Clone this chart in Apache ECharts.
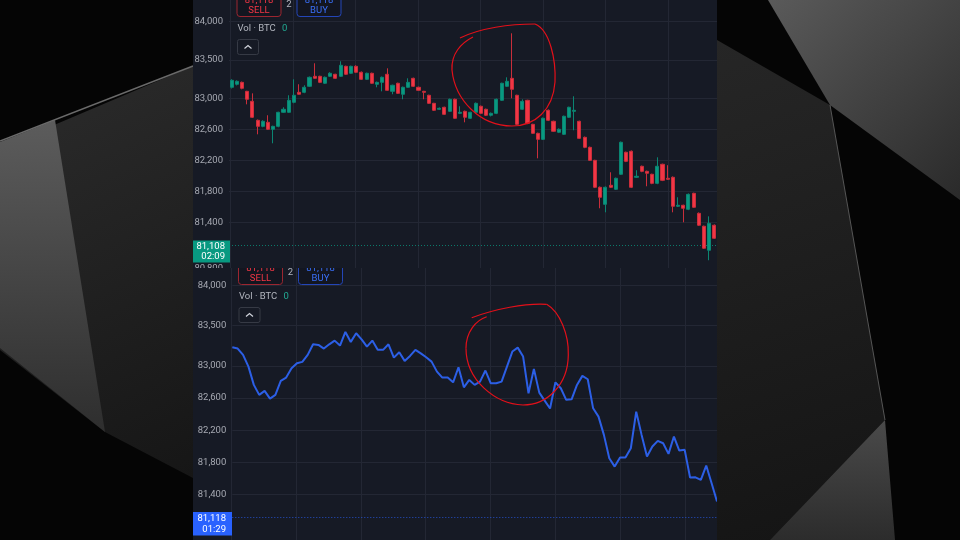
<!DOCTYPE html>
<html>
<head>
<meta charset="utf-8">
<script src="https://cdn.jsdelivr.net/npm/echarts@6/dist/echarts.min.js"></script>
<style>
html,body{margin:0;padding:0;background:#050505;overflow:hidden;}
#bg{position:absolute;left:0;top:0;width:960px;height:540px;}
#top{position:absolute;left:193px;top:0;width:524px;height:268px;}
#bottom{position:absolute;left:193px;top:268px;width:524px;height:272px;}
</style>
</head>
<body>
<div id="bg"></div>
<div id="top"></div>
<div id="bottom"></div>
<script>
// price scale labels of each panel
var topTicks = [84000, 83500, 83000, 82600, 82200, 81800, 81400, 80800];
var bottomTicks = [84000, 83500, 83000, 82600, 82200, 81800, 81400];

// top panel: candles
var opens = [83146,83185,83210,83094,82965,82720,82642,82694,82604,82642,
82823,82823,82952,83081,83081,83159,83288,83288,83198,83288,
83314,83288,83417,83327,83417,83340,83249,83327,83185,83210,
83314,83094,83198,83056,83146,83262,83146,83094,83043,82939,
82862,82888,82836,82991,82810,82836,82746,82823,82901,82862,
82785,82810,82978,83159,83262,83043,82862,82978,82668,82552,
82474,82849,82707,82565,82539,82759,82836,82707,82500,82371,
82203,81855,81635,81881,81829,82023,82307,82320,81984,82126,
82061,82023,81906,82152,81971,81984,81610,81623,81571,81777,
81519,81352,81042,81365];
var closes = [83236,83223,83133,82991,82759,82642,82707,82604,82642,82823,
82862,82978,83043,83056,83146,83275,83262,83210,83275,83327,
83262,83430,83314,83417,83340,83249,83327,83198,83210,83275,
83107,83172,83068,83146,83210,83159,83107,83081,82939,82849,
82875,82797,82991,82746,82823,82759,82823,82939,82810,82785,
82810,82991,83198,83223,83120,82668,82965,82681,82552,82474,
82746,82720,82578,82604,82772,82888,82849,82487,82371,82203,
81855,81726,81855,81855,81971,82436,82190,81855,81997,82061,
82036,81906,82126,81945,81958,81610,81623,81584,81764,81597,
81365,81068,81390,81197];
var lows = [83130,83170,83120,82926,82750,82539,82630,82595,82423,82630,
82815,82815,82940,83050,83070,83150,83255,83200,83190,83280,
83255,83280,83305,83320,83330,83240,83240,83190,83146,83094,
83100,83056,83060,82991,83140,83150,83100,82991,82930,82840,
82855,82790,82830,82740,82800,82694,82740,82815,82800,82775,
82770,82800,82970,83150,83004,82660,82855,82670,82545,82229,
82465,82710,82570,82555,82530,82750,82591,82480,82360,82195,
81845,81584,81532,81845,81820,82015,82180,81845,81975,82050,
81868,81895,81895,81935,81950,81532,81600,81403,81560,81590,
81355,81060,80913,81190];
var highs = [83250,83235,83220,83100,83068,82730,82720,82785,82650,82830,
82888,83043,83249,83185,83172,83285,83456,83295,83285,83340,
83320,83482,83425,83425,83430,83350,83335,83335,83220,83285,
83391,83180,83205,83155,83262,83270,83155,83100,83050,82945,
82885,82895,83000,83000,82901,82845,82830,82950,82910,82870,
82820,83000,83205,83275,83843,83050,82990,82985,82675,82560,
82755,82860,82715,82615,82780,82895,83030,82715,82510,82380,
82210,81865,81865,82049,81980,82445,82315,82330,82075,82135,
82070,82030,82242,82160,82140,81995,81726,81630,81775,81785,
81530,81360,81480,81375];

// bottom panel: line of closes
var lineCloses = [83231,83215,83137,82991,82764,82640,82690,82594,82640,82814,
82855,82970,83032,83050,83137,83268,83261,83215,83268,83314,
83252,83422,83298,83405,83330,83240,83314,83199,83199,83268,
83103,83169,83062,83124,83199,83156,83107,83053,82929,82855,
82855,82796,82983,82734,82826,82764,82805,82942,82784,82784,
82805,82991,83178,83227,83116,82660,82963,82668,82569,82470,
82796,82722,82578,82585,82764,82876,82834,82473,82370,82143,
81852,81749,81861,81861,81977,82432,82143,81874,81998,82069,
82039,81907,82122,81948,81957,81613,81616,81584,81762,81542,
81315];

var topLast = 81108, topTimer = '02:09';
var bottomLast = 81118, bottomTimer = '01:29';
var quote = '81,118';

var candleIdx = opens.map(function (v, i) { return i; });
var candleData = opens.map(function (o, i) { return [o, closes[i], lows[i], highs[i]]; });
var lineIdx = lineCloses.map(function (v, i) { return i; });

var UP = '#089981', DOWN = '#f23645';
var GRIDC = '#232734';
var LABELC = '#a6a9b2';

function fmt(v) { return v.toLocaleString('en-US'); }

function txt(x, y, s, fill, size, align) {
  return { type: 'text', z: 100, style: { x: x, y: y, text: s, fill: fill, fontSize: size, fontFamily: 'Roboto',
    textAlign: align || 'left', textVerticalAlign: 'middle' } };
}
function box(x, y, w, h, stroke, fill) {
  return { type: 'rect', z: 100, shape: { x: x, y: y, width: w, height: h, r: 3 },
    style: { fill: fill || 'transparent', stroke: stroke, lineWidth: 1 } };
}
function curve(p) {
  return { type: 'bezierCurve', z: 101,
    shape: { x1: p[0], y1: p[1], cpx1: p[2], cpy1: p[3], cpx2: p[4], cpy2: p[5], x2: p[6], y2: p[7] },
    style: { stroke: '#e3101a', lineWidth: 1.2, fill: null } };
}
// header widgets of a panel (sell/buy, Vol - BTC, collapse button)
function header(dx, dy) {
  return [
    box(44 + dx, -14 + dy, 44, 30.5, '#9c2630', '#131620'),
    txt(66 + dx, 1 + dy, quote, DOWN, 9.5, 'center'),
    txt(66 + dx, 11 + dy, 'SELL', DOWN, 9.5, 'center'),
    txt(96 + dx, 5 + dy, '2', '#b2b5be', 9.5, 'center'),
    box(104 + dx, -14 + dy, 44, 30.5, '#2446b8', '#131620'),
    txt(126 + dx, 1 + dy, quote, '#3a6ff7', 9.5, 'center'),
    txt(126 + dx, 11 + dy, 'BUY', '#3a6ff7', 9.5, 'center'),
    txt(44.5 + dx, 29 + dy, 'Vol \u00b7 BTC', '#b2b5be', 9.5),
    txt(89 + dx, 29 + dy, '0', '#22ab94', 9.5),
    { type: 'rect', z: 100, shape: { x: 44.5 + dx, y: 39.5 + dy, width: 21, height: 15, r: 2 },
      style: { fill: 'transparent', stroke: '#363a45', lineWidth: 1 } },
    { type: 'polyline', z: 100, shape: { points: [[51.5 + dx, 48.5 + dy], [55 + dx, 45.5 + dy], [58.5 + dx, 48.5 + dy]] },
      style: { stroke: '#d1d4dc', lineWidth: 1.2, fill: null } }
  ];
}

function valueY(min, max, ticks) {
  return { type: 'value', gridIndex: 0, min: min, max: max, interval: 100, position: 'left',
    axisLine: { show: false }, axisTick: { show: false }, splitLine: { show: false },
    axisLabel: { formatter: function (v) { return ticks.indexOf(v) >= 0 ? fmt(v) : ''; },
      color: LABELC, fontSize: 9.5, fontFamily: 'Roboto', margin: 6 } };
}
function vGrid(max) {
  return { type: 'value', gridIndex: 1, min: 0, max: max, interval: 1,
    axisLine: { show: false }, axisTick: { show: false }, axisLabel: { show: false },
    splitLine: { show: true, lineStyle: { color: GRIDC, width: 1 } } };
}
function hLines(ticks, last, color) {
  var d = ticks.map(function (v) { return { yAxis: v }; });
  d.push({ yAxis: last, lineStyle: { color: color, type: [1, 2], width: 1, opacity: 0.75 } });
  return { silent: true, symbol: ['none', 'none'], z: 1, label: { show: false },
    lineStyle: { color: GRIDC, type: 'solid', width: 1 }, data: d };
}

// ---------- background ----------
var bg = echarts.init(document.getElementById('bg'));
bg.setOption({
  backgroundColor: '#050505',
  animation: false,
  graphic: [
    { type: 'polygon', shape: { points: [[0, 148], [193, 66], [193, 478], [105, 432], [0, 350]] },
      style: { fill: new echarts.graphic.LinearGradient(0, 0, 1, 1, [{ offset: 0, color: '#2c2c2c' }, { offset: 1, color: '#161616' }]) } },
    { type: 'polygon', shape: { points: [[0, 142], [55, 120], [105, 432], [0, 348]] },
      style: { fill: new echarts.graphic.LinearGradient(0, 0, 0, 1, [{ offset: 0, color: '#5c5c5c' }, { offset: 1, color: '#2e2e2e' }]) } },
    { type: 'line', shape: { x1: 0, y1: 141, x2: 193, y2: 66 }, style: { stroke: '#6a6a6a', lineWidth: 1.5 } },
    { type: 'polygon', shape: { points: [[717, 40], [830, 105], [885, 420], [770, 540], [717, 540]] },
      style: { fill: new echarts.graphic.LinearGradient(0, 0, 1, 1, [{ offset: 0, color: '#262626' }, { offset: 1, color: '#141414' }]) } },
    { type: 'polygon', shape: { points: [[768, 0], [960, 0], [960, 200], [830, 105]] },
      style: { fill: new echarts.graphic.LinearGradient(0, 0, 1, 1, [{ offset: 0, color: '#5a5a5a' }, { offset: 1, color: '#2a2a2a' }]) } },
    { type: 'polygon', shape: { points: [[885, 420], [770, 540], [895, 540]] },
      style: { fill: new echarts.graphic.LinearGradient(0, 0, 0, 1, [{ offset: 0, color: '#4a4a4a' }, { offset: 1, color: '#2c2c2c' }]) } },
    { type: 'line', shape: { x1: 830, y1: 105, x2: 885, y2: 420 }, style: { stroke: '#555', lineWidth: 1 } }
  ]
});

// ---------- top panel: candlesticks ----------
var topChart = echarts.init(document.getElementById('top'));
topChart.setOption({
  backgroundColor: '#161a25',
  animation: false,
  grid: [
    { left: 36, right: 0, top: 0, height: 269, outerBoundsMode: 'none' },
    { left: 37.5, right: 0, top: 0, height: 269, outerBoundsMode: 'none' }
  ],
  xAxis: [
    { type: 'category', gridIndex: 0, data: candleIdx, boundaryGap: true, show: false },
    vGrid(7.784)
  ],
  yAxis: [
    valueY(80800, 84273, topTicks),
    { type: 'value', gridIndex: 1, min: 0, max: 1, show: false }
  ],
  series: [{
    type: 'candlestick', xAxisIndex: 0, yAxisIndex: 0, z: 3,
    data: candleData, barWidth: 3.6,
    itemStyle: { color: UP, color0: DOWN, borderColor: '#0b8572', borderColor0: '#c92e3b', borderWidth: 1 },
    markLine: hLines(topTicks, topLast, UP)
  }],
  graphic: header(0, 0).concat([
    { type: 'rect', z: 100, shape: { x: 0, y: 240.5, width: 37, height: 22 }, style: { fill: UP } },
    txt(32, 247, fmt(topLast), '#ffffff', 9.5, 'right'),
    txt(32, 257, topTimer, '#ffffff', 9.5, 'right'),
    curve([267, 38, 287, 28, 317, 24, 342, 24]),
    curve([342, 24, 357, 30, 363, 60, 362, 82]),
    curve([362, 82, 360, 110, 342, 126, 319, 126]),
    curve([319, 126, 287, 126, 262, 100, 259, 70]),
    curve([259, 70, 258, 54, 268, 43, 280, 37])
  ])
});

// ---------- bottom panel: line ----------
var botChart = echarts.init(document.getElementById('bottom'));
botChart.setOption({
  backgroundColor: '#161a25',
  animation: false,
  grid: [
    { left: 39.3, right: 0, top: 0, height: 275, outerBoundsMode: 'none' },
    { left: 38.2, right: 0, top: 0, height: 275, outerBoundsMode: 'none' }
  ],
  xAxis: [
    { type: 'category', gridIndex: 0, data: lineIdx, boundaryGap: false, show: false },
    vGrid(7.497)
  ],
  yAxis: [
    valueY(80800, 84216, bottomTicks),
    { type: 'value', gridIndex: 1, min: 0, max: 1, show: false }
  ],
  series: [{
    type: 'line', xAxisIndex: 0, yAxisIndex: 0, z: 3,
    data: lineCloses, showSymbol: false, symbol: 'none',
    lineStyle: { color: '#2c5fe6', width: 2 },
    markLine: hLines(bottomTicks, bottomLast, '#2962ff')
  }],
  graphic: header(1.5, 0).concat([
    { type: 'rect', z: 100, shape: { x: 0, y: 244, width: 39, height: 23.5 }, style: { fill: '#2962ff' } },
    txt(33, 250.5, fmt(bottomLast), '#ffffff', 9.5, 'right'),
    txt(33, 261.5, bottomTimer, '#ffffff', 9.5, 'right'),
    curve([278.7, 49.7, 302, 41, 332, 35, 353.7, 36.3]),
    curve([353.7, 36.3, 367, 44, 376, 67, 375.3, 87]),
    curve([375.3, 87, 375, 117, 354, 137, 330, 137]),
    curve([330, 137, 302, 136, 273, 112, 273, 80.3]),
    curve([273, 80.3, 273, 64, 283, 52, 293.7, 48.7])
  ])
});
</script>
</body>
</html>
